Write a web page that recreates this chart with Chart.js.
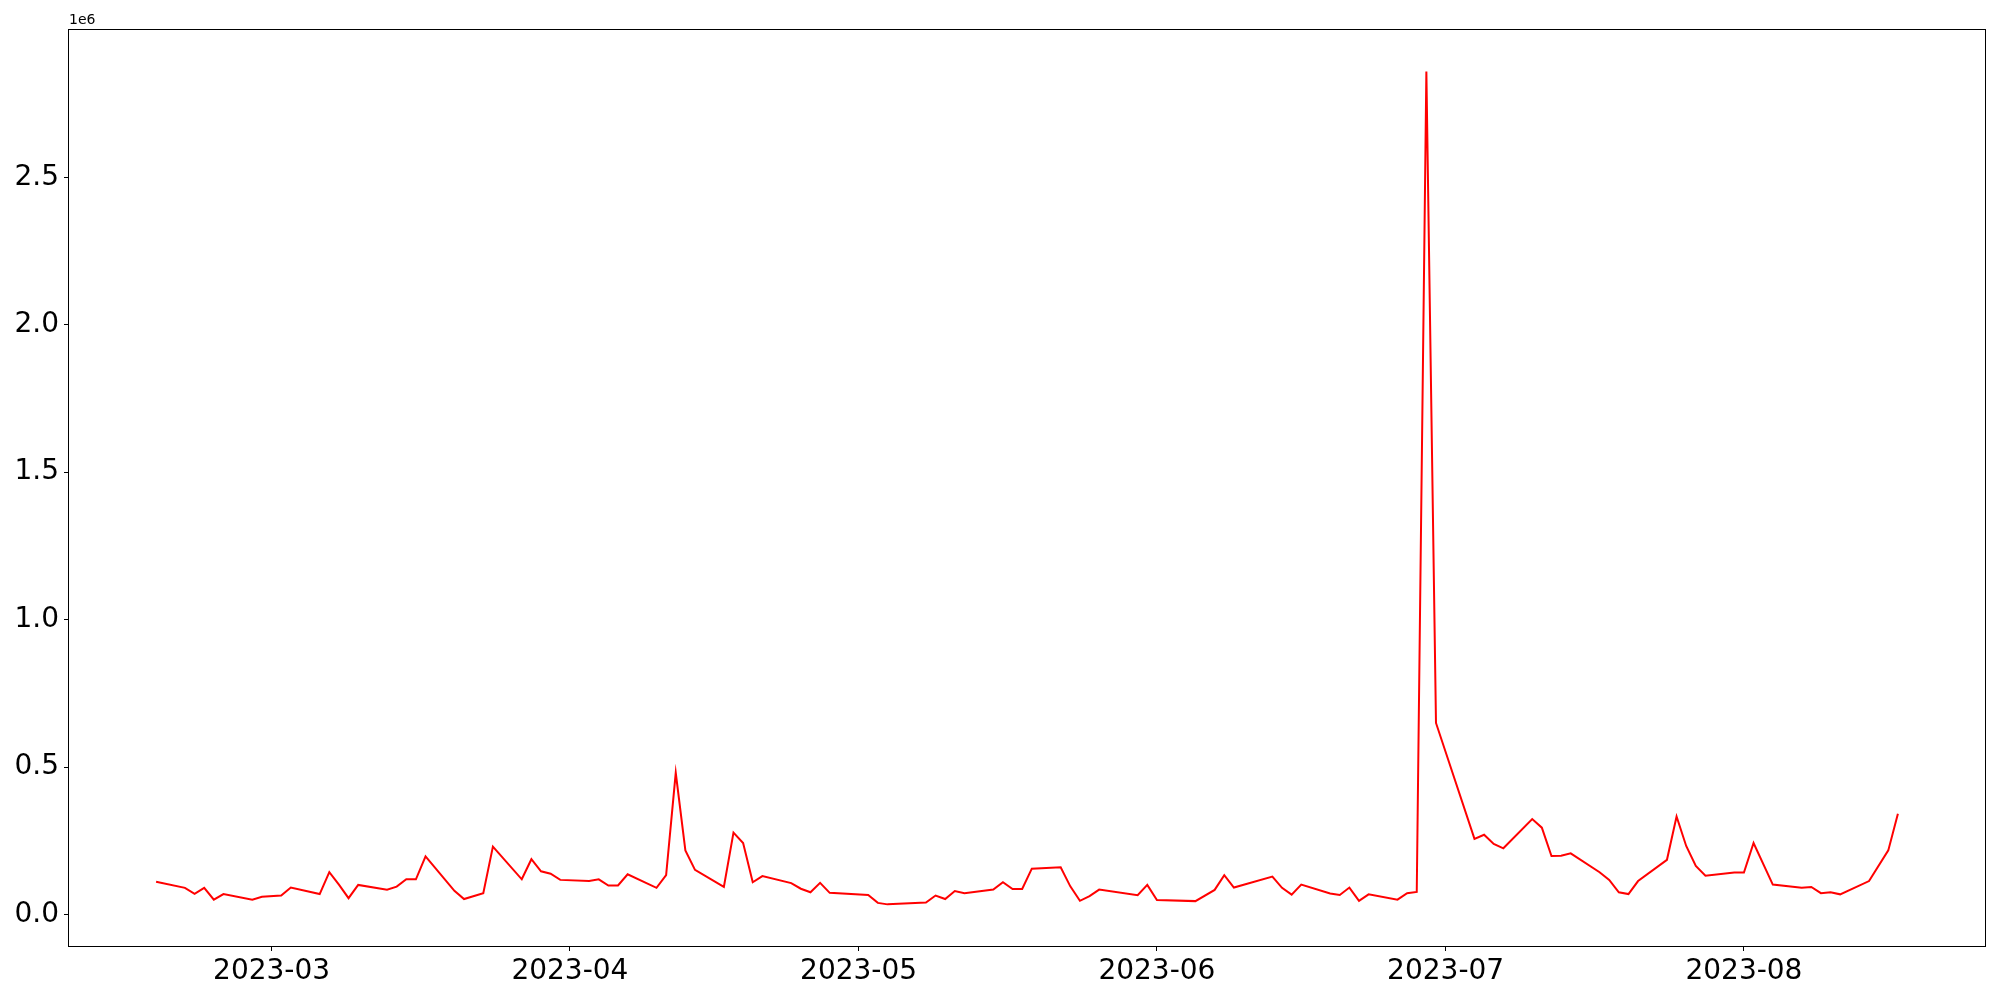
<!DOCTYPE html>
<html lang="en">
<head>
    <meta charset="UTF-8">
    <title>Daily volume</title>
    <style>
        body {
            margin: 0;
            background: #ffffff;
        }
        #wrap {
            width: 2000px;
            height: 1000px;
        }
    </style>
</head>
<body>
    <div id="wrap">
        <canvas id="volChart" width="2000" height="1000"></canvas>
    </div>
    <script src="https://cdn.jsdelivr.net/npm/chart.js"></script>
    <script>
        // dates and values
        const dates = [
            '2023-02-17', '2023-02-20', '2023-02-21', '2023-02-22', '2023-02-23', '2023-02-24',
            '2023-02-27', '2023-02-28', '2023-03-02', '2023-03-03',
            '2023-03-06', '2023-03-07', '2023-03-08', '2023-03-09', '2023-03-10',
            '2023-03-13', '2023-03-14', '2023-03-15', '2023-03-16', '2023-03-17',
            '2023-03-20', '2023-03-21', '2023-03-23', '2023-03-24',
            '2023-03-27', '2023-03-28', '2023-03-29', '2023-03-30', '2023-03-31',
            '2023-04-03', '2023-04-04', '2023-04-05', '2023-04-06', '2023-04-07',
            '2023-04-10', '2023-04-11', '2023-04-12', '2023-04-13', '2023-04-14',
            '2023-04-17', '2023-04-18', '2023-04-19', '2023-04-20', '2023-04-21',
            '2023-04-24', '2023-04-25', '2023-04-26', '2023-04-27', '2023-04-28',
            '2023-05-02', '2023-05-03', '2023-05-04',
            '2023-05-08', '2023-05-09', '2023-05-10', '2023-05-11', '2023-05-12',
            '2023-05-15', '2023-05-16', '2023-05-17', '2023-05-18', '2023-05-19',
            '2023-05-22', '2023-05-23', '2023-05-24', '2023-05-25', '2023-05-26',
            '2023-05-30', '2023-05-31', '2023-06-01',
            '2023-06-05', '2023-06-07', '2023-06-08', '2023-06-09',
            '2023-06-13', '2023-06-14', '2023-06-15', '2023-06-16',
            '2023-06-19', '2023-06-20', '2023-06-21', '2023-06-22', '2023-06-23',
            '2023-06-26', '2023-06-27', '2023-06-28', '2023-06-29', '2023-06-30',
            '2023-07-04', '2023-07-05', '2023-07-06', '2023-07-07',
            '2023-07-10', '2023-07-11', '2023-07-12', '2023-07-13', '2023-07-14',
            '2023-07-17', '2023-07-18', '2023-07-19', '2023-07-20', '2023-07-21',
            '2023-07-24', '2023-07-25', '2023-07-26', '2023-07-27', '2023-07-28',
            '2023-07-31', '2023-08-01', '2023-08-02', '2023-08-04',
            '2023-08-07', '2023-08-08', '2023-08-09', '2023-08-10', '2023-08-11',
            '2023-08-14', '2023-08-16', '2023-08-17'
        ];

        const volumes = [
            112000, 91000, 71000, 91000, 51000, 70000,
            51000, 61000, 65000, 92000,
            70000, 144000, 102000, 56000, 101000,
            85000, 95000, 120000, 120000, 198000,
            81000, 53000, 73000, 231000,
            120000, 188000, 147000, 139000, 118000,
            114000, 120000, 99000, 99000, 137000,
            91000, 134000, 481000, 218000, 152000,
            94000, 278000, 243000, 110000, 131000,
            107000, 88000, 76000, 108000, 74000,
            67000, 40000, 35000,
            41000, 65000, 53000, 80000, 73000,
            85000, 110000, 87000, 87000, 156000,
            161000, 96000, 47000, 63000, 85000,
            66000, 101000, 50000,
            46000, 84000, 134000, 92000,
            129000, 91000, 68000, 102000,
            72000, 67000, 92000, 47000, 69000,
            51000, 73000, 77000, 2858000, 650000,
            257000, 271000, 240000, 225000,
            324000, 295000, 199000, 200000, 208000,
            144000, 118000, 76000, 70000, 114000,
            186000, 333000, 233000, 165000, 132000,
            143000, 143000, 243000, 102000,
            91000, 94000, 73000, 76000, 69000,
            114000, 218000, 342000
        ];

        const xTickDates = ['2023-03-01', '2023-04-01', '2023-05-01', '2023-06-01', '2023-07-01', '2023-08-01'];
        const yTickValues = [0, 500000, 1000000, 1500000, 2000000, 2500000];

        // no date adapter offline, so x is in days since epoch on a linear scale
        const DAY = 86400000;
        const toDay = s => Date.parse(s + 'T00:00:00Z') / DAY;
        const fmtDay = d => new Date(d * DAY).toISOString().slice(0, 7);

        const points = dates.map((d, i) => ({ x: toDay(d), y: volumes[i] }));

        const xFirst = points[0].x;
        const xLast = points[points.length - 1].x;
        const xPad = (xLast - xFirst) * 0.05;
        const yMin = Math.min(...volumes);
        const yMax = Math.max(...volumes);
        const yPad = (yMax - yMin) * 0.05;

        const tickFont = { family: 'DejaVu Sans', size: 28 };

        const framePlugin = {
            id: 'frame',
            afterDraw(chart) {
                const { ctx, chartArea } = chart;
                const l = Math.round(chartArea.left) - 0.5;
                const t = Math.round(chartArea.top) - 0.5;
                const r = Math.round(chartArea.right) + 0.5;
                const b = Math.round(chartArea.bottom) + 0.5;
                ctx.save();
                ctx.strokeStyle = '#000000';
                ctx.lineWidth = 1;
                ctx.strokeRect(l, t, r - l, b - t);
                // matplotlib style offset text
                ctx.fillStyle = '#000000';
                ctx.font = '14px "DejaVu Sans"';
                ctx.textAlign = 'left';
                ctx.textBaseline = 'bottom';
                ctx.fillText('1e6', chartArea.left, chartArea.top - 3);
                ctx.restore();
            }
        };

        const ctx = document.getElementById('volChart').getContext('2d');
        new Chart(ctx, {
            type: 'line',
            data: {
                datasets: [{
                    data: points,
                    borderColor: '#ff0000',
                    borderWidth: 2,
                    pointRadius: 0,
                    tension: 0,
                    fill: false
                }]
            },
            options: {
                responsive: false,
                animation: false,
                devicePixelRatio: 1,
                layout: {
                    padding: { top: 30, right: 15, left: 0, bottom: 0 }
                },
                plugins: {
                    legend: { display: false },
                    tooltip: { enabled: false }
                },
                scales: {
                    x: {
                        type: 'linear',
                        min: xFirst - xPad,
                        max: xLast + xPad,
                        afterBuildTicks: axis => {
                            axis.ticks = xTickDates.map(d => ({ value: toDay(d) }));
                        },
                        afterFit: axis => { axis.height = 54; },
                        ticks: {
                            color: '#000000',
                            font: tickFont,
                            padding: 4,
                            maxRotation: 0,
                            autoSkip: false,
                            callback: v => fmtDay(v)
                        },
                        grid: {
                            drawOnChartArea: false,
                            tickLength: 5,
                            tickColor: '#000000',
                            tickWidth: 1
                        },
                        border: { display: false }
                    },
                    y: {
                        min: yMin - yPad,
                        max: yMax + yPad,
                        afterBuildTicks: axis => {
                            axis.ticks = yTickValues.map(v => ({ value: v }));
                        },
                        afterFit: axis => { axis.width = 69; },
                        ticks: {
                            color: '#000000',
                            font: tickFont,
                            padding: 5,
                            callback: v => (v / 1e6).toFixed(1)
                        },
                        grid: {
                            drawOnChartArea: false,
                            tickLength: 5,
                            tickColor: '#000000',
                            tickWidth: 1
                        },
                        border: { display: false }
                    }
                }
            },
            plugins: [framePlugin]
        });
    </script>
</body>
</html>
